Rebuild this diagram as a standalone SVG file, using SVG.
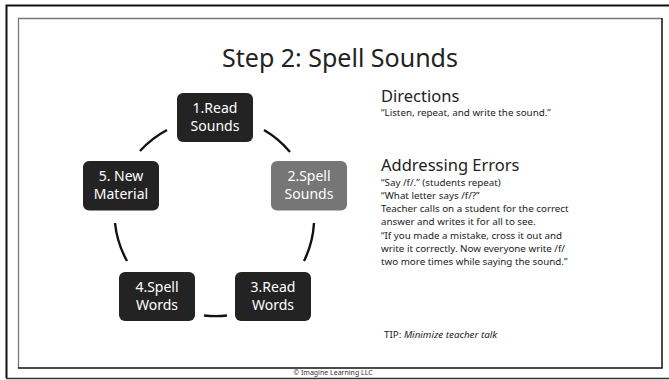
<svg xmlns="http://www.w3.org/2000/svg" width="669" height="380" viewBox="0 0 669 380">
  <defs>
    <style>
      .frame-outer { fill: none; stroke: #111; stroke-width: 2; }
      .title { font-family: "Noto Sans", "Open Sans", sans-serif; font-size: 25px; fill: #222; text-anchor: middle; }
      .box { fill: #232323; }
      .box.current { fill: #767676; }
      .box-label { font-family: "Noto Sans", "Open Sans", sans-serif; font-size: 14px; fill: #fff; text-anchor: middle; }
      .conn { fill: none; stroke: #111; stroke-width: 2.4; }
      .head { font-family: "Noto Sans", "Open Sans", sans-serif; font-size: 16.5px; fill: #222; }
      .body { font-family: "Noto Sans", "Open Sans", sans-serif; font-size: 9.8px; fill: #222; }
      .footer { font-family: "Noto Sans", "Open Sans", sans-serif; font-size: 7px; fill: #333; text-anchor: middle; }
    </style>
  </defs>

  <rect width="669" height="380" fill="#fff"/>

  <!-- outer page frame -->
  <path class="frame-outer" d="M6.5 378 V5.5 H669"/>
  <line x1="6" y1="378.5" x2="669" y2="378.5" stroke="#333" stroke-width="1.5"/>

  <!-- slide frame: grey top/left edges, dark right/bottom edges -->
  <path d="M18.5 368 V18.5 H662" fill="none" stroke="#777" stroke-width="1.3"/>
  <path d="M18 368 H662 V18" fill="none" stroke="#111" stroke-width="1.5"/>

  <text class="title" x="340" y="67">Step 2: Spell Sounds</text>

  <!-- cycle connectors: arcs on a circle centred at (215,217), r=99.5 -->
  <g id="connectors">
    <path class="conn" d="M264 130 A99.5 99.5 0 0 1 290 152"/>
    <path class="conn" d="M314 223 A99.5 99.5 0 0 1 304 261"/>
    <path class="conn" d="M227 315.5 A99.5 99.5 0 0 1 204 315.5"/>
    <path class="conn" d="M127 261 A99.5 99.5 0 0 1 115 223"/>
    <path class="conn" d="M140 151 A99.5 99.5 0 0 1 167 130"/>
  </g>

  <g id="node-read-sounds">
    <rect class="box" x="177" y="93" width="76" height="49" rx="6"/>
    <text class="box-label" x="215" y="113">1.Read</text>
    <text class="box-label" x="215" y="131">Sounds</text>
  </g>
  <g id="node-spell-sounds">
    <rect class="box current" x="271" y="161" width="76" height="49.5" rx="6"/>
    <text class="box-label" x="309" y="181">2.Spell</text>
    <text class="box-label" x="309" y="199">Sounds</text>
  </g>
  <g id="node-read-words">
    <rect class="box" x="235" y="272" width="76" height="49" rx="6"/>
    <text class="box-label" x="273" y="292">3.Read</text>
    <text class="box-label" x="273" y="310">Words</text>
  </g>
  <g id="node-spell-words">
    <rect class="box" x="119" y="272" width="76" height="49" rx="6"/>
    <text class="box-label" x="157" y="292">4.Spell</text>
    <text class="box-label" x="157" y="310">Words</text>
  </g>
  <g id="node-new-material">
    <rect class="box" x="83" y="161" width="76" height="49.5" rx="6"/>
    <text class="box-label" x="121" y="181">5. New</text>
    <text class="box-label" x="121" y="199">Material</text>
  </g>

  <!-- instructions panel -->
  <text class="head" x="381" y="102">Directions</text>
  <text class="body" x="381" y="116">“Listen, repeat, and write the sound.”</text>

  <text class="head" x="381" y="171">Addressing Errors</text>
  <text class="body" x="381" y="186">“Say /f/.” (students repeat)</text>
  <text class="body" x="381" y="199">“What letter says /f/?”</text>
  <text class="body" x="381" y="212">Teacher calls on a student for the correct</text>
  <text class="body" x="381" y="225">answer and writes it for all to see.</text>
  <text class="body" x="381" y="239">“If you made a mistake, cross it out and</text>
  <text class="body" x="381" y="252">write it correctly. Now everyone write /f/</text>
  <text class="body" x="381" y="265">two more times while saying the sound.”</text>

  <text class="body" x="384" y="338">TIP: <tspan font-style="italic">Minimize teacher talk</tspan></text>

  <text class="footer" x="333" y="375">© Imagine Learning LLC</text>
</svg>
